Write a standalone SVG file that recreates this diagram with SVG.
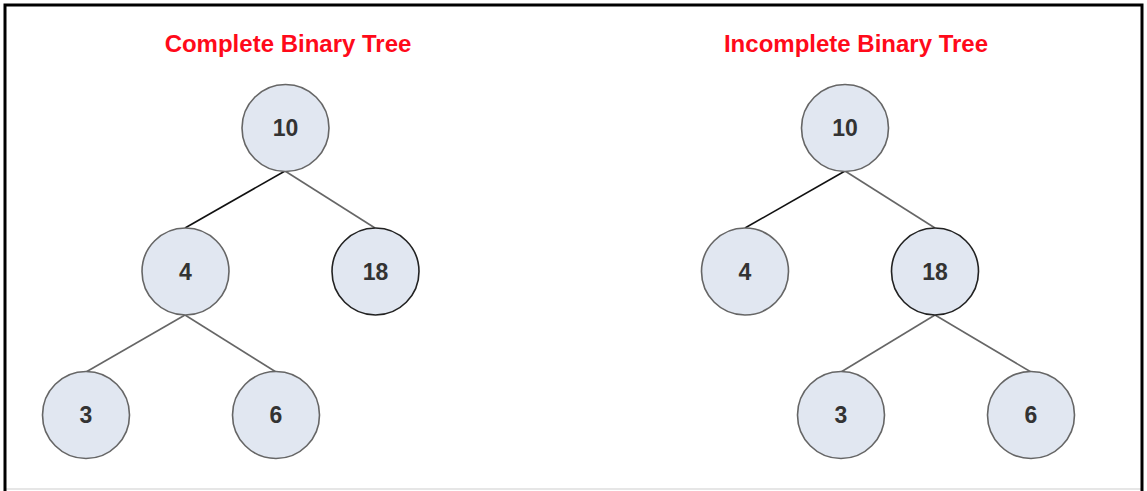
<svg xmlns="http://www.w3.org/2000/svg" width="1147" height="491" viewBox="0 0 1147 491">
<style>
.title{font-family:"Liberation Sans",Arial,sans-serif;font-weight:bold;font-size:24px;fill:#ff0a1a;text-anchor:middle}
.node circle{fill:#e1e7f1;stroke:#666;stroke-width:1.6}
.node.dark circle{stroke:#222}
.node text{font-family:"Liberation Sans",Arial,sans-serif;font-weight:bold;font-size:23px;fill:#333;text-anchor:middle}
.edge{stroke:#666;stroke-width:1.6;fill:none}
.edge.dark{stroke:#111}
</style>
<rect x="0" y="0" width="1147" height="491" fill="#fff"/>
<line x1="5" y1="489" x2="1142" y2="489" stroke="#e6e6e6" stroke-width="2"/>
<path d="M5,491 V5 H1142 V491" fill="none" stroke="#000" stroke-width="3"/>
<text class="title" x="288" y="52">Complete Binary Tree</text>
<text class="title" x="856" y="52">Incomplete Binary Tree</text>
<g id="connectors">
<line class="edge dark" x1="285" y1="171" x2="185" y2="228"/>
<line class="edge" x1="285" y1="171" x2="375" y2="228"/>
<line class="edge" x1="185" y1="315" x2="86" y2="372"/>
<line class="edge" x1="185" y1="315" x2="276" y2="372"/>
<line class="edge dark" x1="845" y1="171" x2="745" y2="228"/>
<line class="edge" x1="845" y1="171" x2="935" y2="228"/>
<line class="edge" x1="935" y1="315" x2="841" y2="372"/>
<line class="edge" x1="935" y1="315" x2="1031" y2="372"/>
</g>
<g id="c10" class="node"><circle cx="285.5" cy="128" r="43.5"/><text x="285.5" y="136">10</text></g>
<g id="c4" class="node"><circle cx="185.5" cy="271.5" r="43.5"/><text x="185.5" y="279.5">4</text></g>
<g id="c18" class="node dark"><circle cx="375.5" cy="271.5" r="43.5"/><text x="375.5" y="279.5">18</text></g>
<g id="c3" class="node"><circle cx="86" cy="415" r="43.5"/><text x="86" y="423">3</text></g>
<g id="c6" class="node"><circle cx="276" cy="415" r="43.5"/><text x="276" y="423">6</text></g>
<g id="i10" class="node"><circle cx="845" cy="128" r="43.5"/><text x="845" y="136">10</text></g>
<g id="i4" class="node"><circle cx="745" cy="271.5" r="43.5"/><text x="745" y="279.5">4</text></g>
<g id="i18" class="node dark"><circle cx="935" cy="271.5" r="43.5"/><text x="935" y="279.5">18</text></g>
<g id="i3" class="node"><circle cx="841" cy="415" r="43.5"/><text x="841" y="423">3</text></g>
<g id="i6" class="node"><circle cx="1031" cy="415" r="43.5"/><text x="1031" y="423">6</text></g>
</svg>
